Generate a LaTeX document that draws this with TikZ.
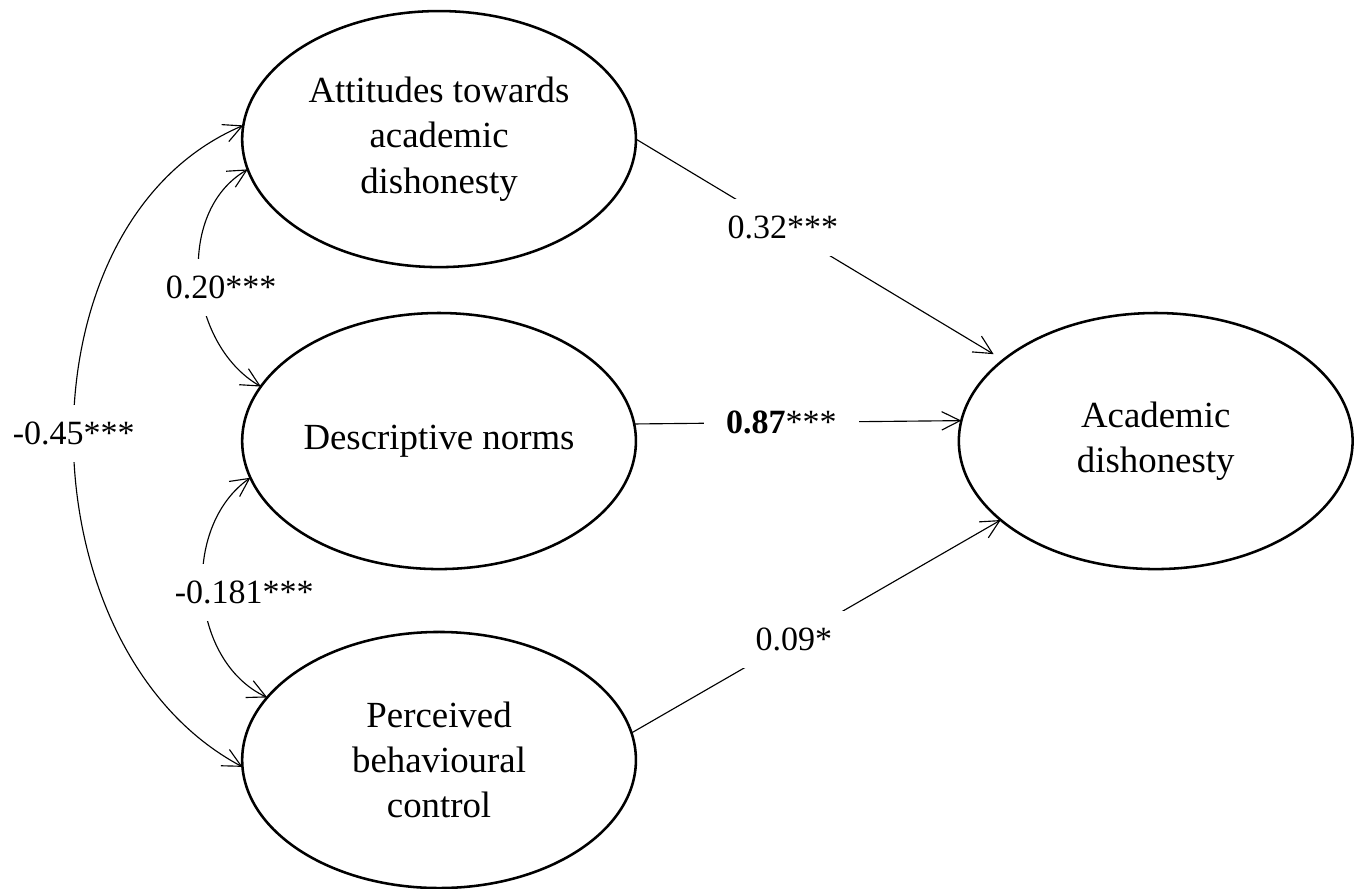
\documentclass[tikz,border=0pt]{standalone}
\usepackage{fontspec}
\setmainfont{Liberation Serif}
\usetikzlibrary{arrows.meta, positioning, shapes.geometric}
\tikzset {
  latent/.style = {draw, line width=0.9pt, ellipse, fill=white, text centered, align=center, minimum width=139pt, minimum height=90.4pt, inner sep=0pt, outer sep=0pt, font=\fontsize{13}{16}\selectfont},
  line/.style = {->, line width=0.4pt, color=black, >={Straight Barb[length=6.5pt,width=6.5pt]}},
  corr/.style = {<->, line width=0.4pt, color=black, >={Straight Barb[length=6.5pt,width=6.5pt]}},
  coef/.style = {fill=white, inner xsep=8pt, inner ysep=6pt, font=\fontsize{12}{14}\selectfont}
}

\begin{document}
\begin{tikzpicture}[node distance=16pt]
    \useasboundingbox (-155pt,155.7pt) rectangle (323pt,-157.8pt);

    \node[latent] (norms) {Descriptive norms};
    \node[latent, above=16.2pt of norms] (attitudes) {Attitudes towards\\academic\\dishonesty};
    \node[latent, below=22.2pt of norms] (control) {Perceived\\behavioural\\control};
    \node[latent, right=114pt of norms] (dishonesty) {Academic\\dishonesty};

    % paths to the outcome
    \draw[line, shorten >=4pt] (attitudes.east) -- node[coef, pos=0.4] {0.32***} (dishonesty.152);
    \draw[line] (norms.5) -- node[coef, pos=0.45] {\textbf{0.87}***} (dishonesty.174);
    \draw[line] (control.8) -- node[coef, pos=0.44] {0.09*} (dishonesty.207);

    % correlations
    \draw[corr] (attitudes.189) to[out=210, in=150] node[coef, xshift=7.8pt, yshift=-3.5pt] {0.20***} (norms.163);
    \draw[corr] (norms.191) to[out=215, in=155] node[coef, xshift=14.5pt] {-0.181***} (control.160);
    \draw[corr] (attitudes.176) to[out=203, in=152] node[coef, yshift=1.8pt] {-0.45***} (control.182);

\end{tikzpicture}
\end{document}
